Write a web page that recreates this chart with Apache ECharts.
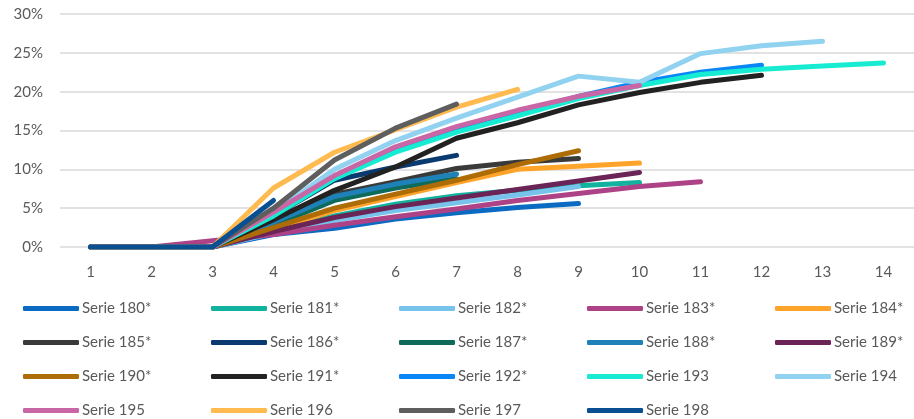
<!DOCTYPE html>
<html>
<head>
<meta charset="utf-8">
<script src="https://cdn.jsdelivr.net/npm/echarts@6/dist/echarts.min.js"></script>
<style>
  html, body { margin: 0; padding: 0; background: #fff; }
  #chart { width: 914px; height: 419px; }
</style>
</head>
<body>
<div id="chart"></div>
<script>
const categories = ['1', '2', '3', '4', '5', '6', '7', '8', '9', '10', '11', '12', '13', '14']

// values in percent
const s180 = [0, 0, 0, 1.6, 2.4, 3.6, 4.4, 5.1, 5.6]
const s181 = [0, 0, 0, 2.0, 4.0, 5.5, 6.6, 7.3, 7.9, 8.3]
const s182 = [0, 0, 0, 1.8, 3.4, 4.7, 5.7, 6.7, 7.8]
const s183 = [0, 0, 0.8, 1.6, 2.8, 3.9, 4.9, 6.0, 6.9, 7.8, 8.4]
const s184 = [0, 0, 0, 2.3, 4.7, 6.5, 8.3, 10.0, 10.4, 10.8]
const s185 = [0, 0, 0, 3.0, 6.8, 8.4, 10.1, 10.9, 11.4]
const s186 = [0, 0, 0, 4.0, 8.6, 10.3, 11.8]
const s187 = [0, 0, 0, 2.8, 6.0, 7.6, 8.8]
const s188 = [0, 0, 0, 3.2, 6.5, 8.1, 9.4]
const s189 = [0, 0, 0, 2.0, 3.8, 5.2, 6.3, 7.4, 8.5, 9.6]
const s190 = [0, 0, 0, 2.5, 5.0, 6.8, 8.6, 10.6, 12.4]
const s191 = [0, 0, 0, 3.5, 7.3, 10.3, 14.0, 16.0, 18.3, 19.9, 21.2, 22.1]
const s192 = [0, 0, 0, 4.2, 9.0, 12.5, 15.0, 17.3, 19.4, 21.2, 22.5, 23.4]
const s193 = [0, 0, 0, 4.0, 8.8, 12.2, 14.8, 16.9, 19.1, 20.8, 22.2, 22.9, 23.3, 23.7]
const s194 = [0, 0, 0, 4.5, 10.0, 13.7, 16.6, 19.3, 22.0, 21.2, 24.9, 25.9, 26.5]
const s195 = [0, 0, 0, 4.5, 9.2, 12.9, 15.5, 17.6, 19.4, 20.8]
const s196 = [0, 0, 0, 7.6, 12.2, 15.1, 18.0, 20.3]
const s197 = [0, 0, 0, 5.0, 11.2, 15.3, 18.4]
const s198 = [0, 0, 0, 6.0]

const seriesNames = [
  'Serie 180*', 'Serie 181*', 'Serie 182*', 'Serie 183*', 'Serie 184*',
  'Serie 185*', 'Serie 186*', 'Serie 187*', 'Serie 188*', 'Serie 189*',
  'Serie 190*', 'Serie 191*', 'Serie 192*', 'Serie 193', 'Serie 194',
  'Serie 195', 'Serie 196', 'Serie 197', 'Serie 198'
]
const seriesData = [
  s180, s181, s182, s183, s184, s185, s186, s187, s188, s189,
  s190, s191, s192, s193, s194, s195, s196, s197, s198
]
const colors = [
  '#0b6bc3', '#12b39e', '#78c3ec', '#ad4386', '#ffa42a',
  '#3a3a3a', '#0b3a70', '#0e6b59', '#1e82b8', '#6a2556',
  '#ad6c05', '#222222', '#0b86f6', '#17ecd2', '#90d2ef',
  '#c966a6', '#ffbb50', '#5e5e5e', '#0a4f91'
]

const chart = echarts.init(document.getElementById('chart'), null, { renderer: 'canvas' })

const font = 'Lato, "Noto Sans", sans-serif'
const textColor = '#595959'

// one legend per column, 5 columns
const colX = [18, 206, 394, 582, 770]
const legends = colX.map((x, c) => ({
  orient: 'vertical',
  left: x,
  top: 296,
  height: 150,
  itemWidth: 56,
  itemHeight: 5,
  itemGap: 19,
  icon: 'roundRect',
  textStyle: { color: textColor, fontSize: 15, fontFamily: font, padding: [0, 0, 0, -2] },
  data: seriesNames.filter((_, i) => i % 5 === c)
}))

const option = {
  animation: false,
  color: colors,
  legend: legends,
  grid: { left: 60, right: -4, top: 14, bottom: 172, containLabel: false },
  xAxis: {
    type: 'category',
    data: categories,
    boundaryGap: true,
    axisLine: { show: false },
    axisTick: { show: false },
    axisLabel: { color: textColor, fontSize: 15, fontFamily: font, margin: 18 }
  },
  yAxis: {
    type: 'value',
    min: 0,
    max: 30,
    interval: 5,
    axisLine: { show: false },
    axisTick: { show: false },
    axisLabel: { color: textColor, fontSize: 15, fontFamily: font, margin: 17, formatter: '{value}%' },
    splitLine: { lineStyle: { color: '#d9d9d9', width: 1.5 } }
  },
  series: seriesNames.map((name, i) => ({
    name,
    type: 'line',
    data: seriesData[i],
    symbol: 'none',
    lineStyle: { width: 5, cap: 'round', join: 'round', color: colors[i] },
    itemStyle: { color: colors[i] }
  }))
}

chart.setOption(option)
window.addEventListener('resize', () => chart.resize())
</script>
</body>
</html>
